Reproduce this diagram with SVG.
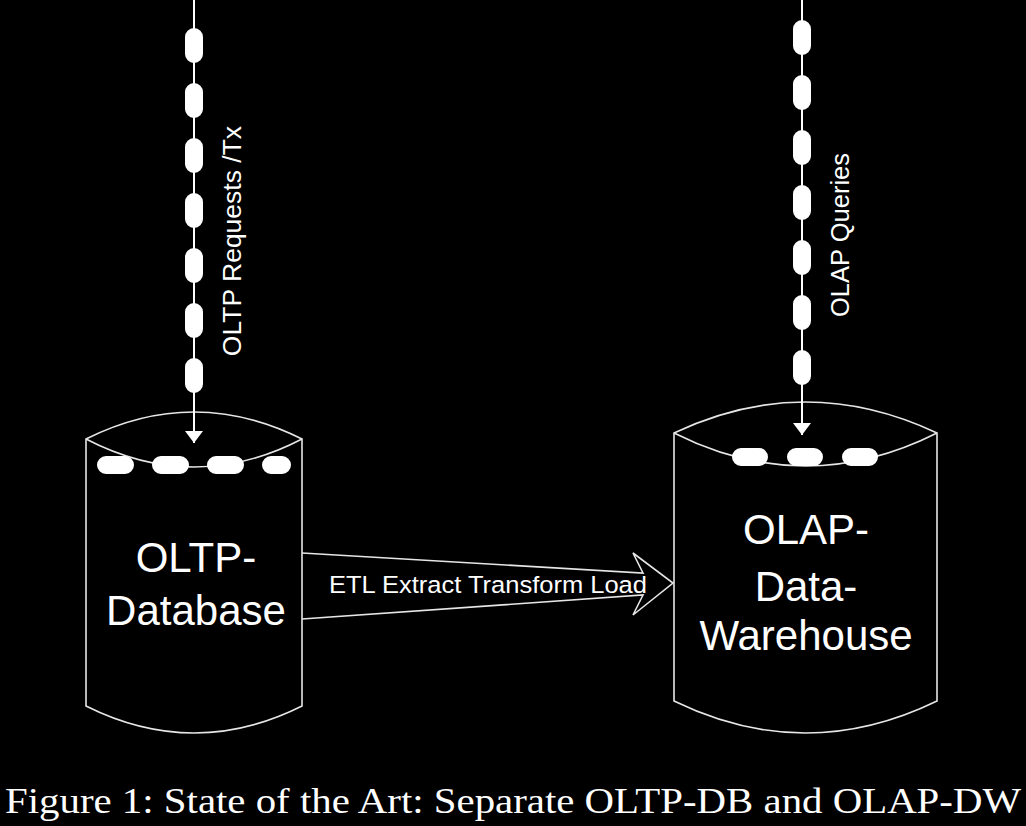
<svg xmlns="http://www.w3.org/2000/svg" width="1026" height="826" viewBox="0 0 1026 826">
<defs>
<style>
.bg{fill:#000}
.outline{fill:none;stroke:#e6e6e6;stroke-width:1.6}
.flow{fill:none;stroke:#fff;stroke-width:2}
.dash{fill:none;stroke:#fff;stroke-width:18;stroke-linecap:round}
.lbl{fill:#fff;font-family:"Liberation Sans",Arial,sans-serif}
.big{font-size:42px;text-anchor:middle}
.cap{fill:#fff;font-family:"Liberation Serif","Times New Roman",serif;font-size:36px}
</style>
<marker id="ah" viewBox="0 0 12 18" refX="12" refY="9" markerWidth="12" markerHeight="18" markerUnits="userSpaceOnUse" orient="auto">
<path d="M0,0 L12,9 L0,18 Z" fill="#fff"/>
</marker>
</defs>
<rect class="bg" x="0" y="0" width="1026" height="826"/>

<g id="oltp-db">
<path class="outline" d="M86,439 Q194,385 302,439 L302,706 Q194,760 86,706 Z"/>
<path class="outline" d="M86,439 Q194,495 302,439"/>
<path class="dash" d="M106,465 L282,465" stroke-dasharray="19 36"/>
<text class="lbl big" x="196" y="572">OLTP-</text>
<text class="lbl big" x="196" y="625">Database</text>
</g>

<g id="olap-dw">
<path class="outline" d="M674,433 Q805.5,371 937,433 L937,701 Q805.5,765 674,701 Z"/>
<path class="outline" d="M674,433 Q805.5,499 937,433"/>
<path class="dash" d="M741,457 L869,457" stroke-dasharray="18 37"/>
<text class="lbl big" x="806" y="544">OLAP-</text>
<text class="lbl big" x="806" y="601">Data-</text>
<text class="lbl big" x="806" y="650">Warehouse</text>
</g>

<g id="connectors">
<g id="oltp-requests">
<path class="flow" d="M194,0 L194,443" marker-end="url(#ah)"/>
<path class="dash" d="M194,37 L194,384" stroke-dasharray="17 38"/>
<text class="lbl" font-size="26.5" text-anchor="middle" transform="translate(241,241) rotate(-90)">OLTP Requests /Tx</text>
</g>
<g id="olap-queries">
<path class="flow" d="M802,0 L802,435" marker-end="url(#ah)"/>
<path class="dash" d="M802,29 L802,376" stroke-dasharray="17 38"/>
<text class="lbl" font-size="25.5" text-anchor="middle" transform="translate(849,235) rotate(-90)">OLAP Queries</text>
</g>
<g id="etl">
<path class="outline" d="M302,553 L643,573 L633,553 L673,583 L633,615 L643,595 L302,619"/>
<text class="lbl" font-size="24.5" x="329" y="593" textLength="318" lengthAdjust="spacingAndGlyphs">ETL Extract Transform Load</text>
</g>
</g>

<text class="cap" x="5" y="813" textLength="1016" lengthAdjust="spacingAndGlyphs">Figure 1: State of the Art: Separate OLTP-DB and OLAP-DW</text>
</svg>
